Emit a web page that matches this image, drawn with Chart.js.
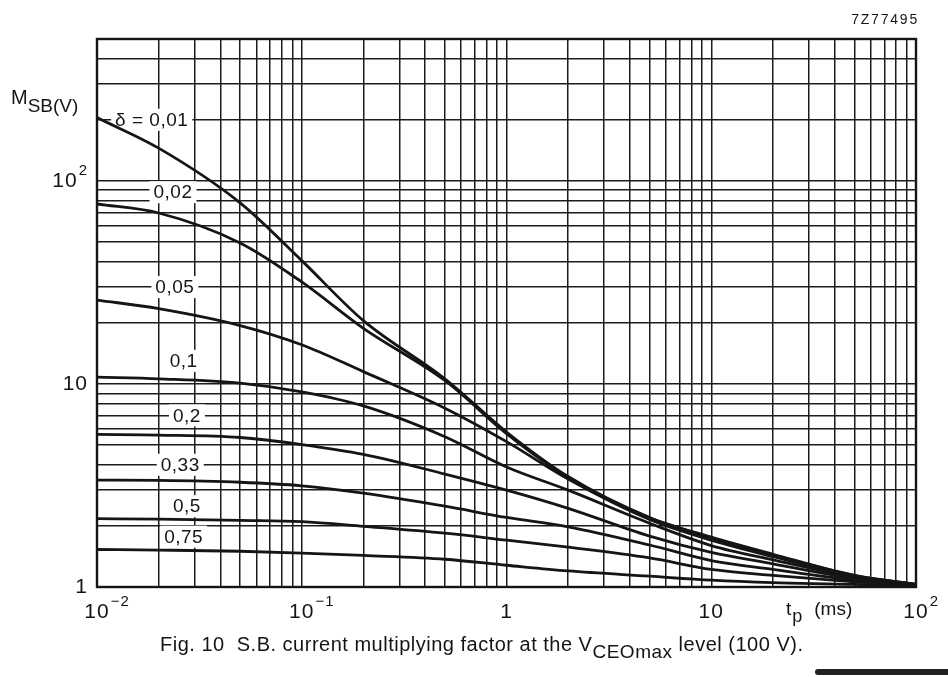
<!DOCTYPE html>
<html>
<head>
<meta charset="utf-8">
<title>S.B. current multiplying factor</title>
<script src="https://cdn.jsdelivr.net/npm/chart.js@4.4.1/dist/chart.umd.min.js"></script>
<style>
  html, body { margin: 0; padding: 0; background: #fff; }
  #wrap { position: relative; width: 948px; height: 677px; overflow: hidden;
          font-family: "Liberation Sans", Arial, sans-serif; color: #151515; }
  #sbChart { position: absolute; left: 0; top: 0; }
  .code { position: absolute; right: 29px; top: 11px; font-size: 14px; letter-spacing: 1.8px; }
  .ytitle { position: absolute; left: 11px; top: 86px; font-size: 20px; }
  .ytitle sub { font-size: 19px; vertical-align: -8px; }
  .xtitle { position: absolute; left: 786px; top: 598px; font-size: 19px; }
  .xtitle sub { font-size: 18px; vertical-align: -7px; margin-right: 12px; margin-left: 1px; }
  .caption { position: absolute; left: 160px; top: 633px; font-size: 20px; letter-spacing: 0.5px; white-space: nowrap; }
  .caption sub { font-size: 19px; vertical-align: -7px; }
  .scrap { position: absolute; left: 815px; top: 669px; width: 140px; height: 6px; background: #222; border-radius: 3px 0 0 3px; }
</style>
</head>
<body>
<div id="wrap">
  <canvas id="sbChart" width="948" height="677"></canvas>
  <div class="code">7Z77495</div>
  <div class="ytitle">M<sub>SB(V)</sub></div>
  <div class="xtitle">t<sub>p</sub>(ms)</div>
  <div class="caption">Fig. 10&nbsp; S.B. current multiplying factor at the V<sub>CEOmax</sub> level (100 V).</div>
  <div class="scrap"></div>
</div>
<script>
// pulse time t_p (ms) where the curves were read
const tp = [0.01, 0.02, 0.05, 0.1, 0.2, 0.5, 1, 2, 5, 10, 20, 50, 100];

// duty factor of each curve
const deltas = ['0,01', '0,02', '0,05', '0,1', '0,2', '0,33', '0,5', '0,75'];

// M_SB(V), one list per duty factor
const m001 = [205, 145, 78, 40.5, 20.5, 10.6, 5.8, 3.5, 2.2, 1.76, 1.45, 1.14, 1.03];
const m002 = [77, 69.5, 49.5, 31.8, 18.8, 10.4, 5.7, 3.46, 2.19, 1.75, 1.44, 1.14, 1.03];
const m005 = [25.9, 23.5, 19.4, 15.6, 11.5, 7.6, 5.2, 3.4, 2.15, 1.7, 1.41, 1.13, 1.03];
const m01  = [10.8, 10.6, 10.1, 9.15, 7.8, 5.5, 3.9, 3.0, 2.06, 1.6, 1.36, 1.12, 1.03];
const m02  = [5.64, 5.6, 5.45, 5.03, 4.5, 3.6, 3.0, 2.44, 1.78, 1.48, 1.3, 1.1, 1.02];
const m033 = [3.36, 3.35, 3.28, 3.15, 2.9, 2.5, 2.2, 1.98, 1.61, 1.35, 1.22, 1.08, 1.02];
const m05  = [2.17, 2.16, 2.13, 2.1, 1.99, 1.84, 1.7, 1.57, 1.39, 1.22, 1.14, 1.06, 1.01];
const m075 = [1.53, 1.52, 1.5, 1.47, 1.43, 1.37, 1.28, 1.2, 1.13, 1.08, 1.05, 1.03, 1.0];
const series = [m001, m002, m005, m01, m02, m033, m05, m075];

// where each curve name sits (t_p, M)
const labelText = ['δ = 0,01', '0,02', '0,05', '0,1', '0,2', '0,33', '0,5', '0,75'];
const labelT = [0.0185, 0.0235, 0.024, 0.0265, 0.0275, 0.0255, 0.0275, 0.0265];
const labelM = [200, 88, 30, 13, 7, 4, 2.5, 1.77];

// log grid and decade tick labels
const gridSteps = [1, 2, 3, 4, 5, 6, 7, 8, 9];
const xGrid = [0.01, 0.1, 1, 10].flatMap(d => gridSteps.map(s => +(s * d).toPrecision(3))).concat([100]);
const yGrid = [1, 10].flatMap(d => gridSteps.map(s => s * d)).concat([100, 200, 300, 400]);
const xTicks = [0.01, 0.1, 1, 10, 100];
const xTickBase = ['10', '10', '1', '10', '10'];
const xTickExp = ['−2', '−1', '', '', '2'];
const yTicks = [1, 10, 100];
const yTickBase = ['1', '10', '10'];
const yTickExp = ['', '', '2'];

const FONT = '"Liberation Sans", Arial, sans-serif';
const INK = '#151515';

// base text + raised exponent, anchored on the base text
function powLabel(ctx, base, exp, px, py, align) {
  ctx.letterSpacing = '1px';
  ctx.font = '21px ' + FONT;
  const bw = ctx.measureText(base).width;
  ctx.font = '15px ' + FONT;
  const ew = exp ? ctx.measureText(exp).width + 1 : 0;
  let bx = px - bw / 2;               // centred under a gridline
  if (align === 'right') bx = px - bw - ew;
  ctx.textAlign = 'left';
  ctx.textBaseline = 'middle';
  ctx.font = '21px ' + FONT;
  ctx.fillText(base, bx, py);
  if (exp) {
    ctx.font = '15px ' + FONT;
    ctx.fillText(exp, bx + bw + 1, py - 10);
  }
}

const decorPlugin = {
  id: 'decor',
  beforeDatasetsDraw(chart) {
    const { ctx, scales: { x, y } } = chart;
    ctx.save();
    ctx.font = '19px ' + FONT;
    ctx.letterSpacing = '0.5px';
    ctx.textAlign = 'center';
    ctx.textBaseline = 'middle';
    labelText.forEach((txt, i) => {
      const px = x.getPixelForValue(labelT[i]);
      const py = y.getPixelForValue(labelM[i]);
      const w = ctx.measureText(txt).width + 8;
      ctx.fillStyle = '#fff';
      ctx.fillRect(px - w / 2, py - 11, w, 22);
      ctx.fillStyle = INK;
      ctx.fillText(txt, px, py + 1);
    });
    ctx.restore();
  },
  afterDatasetsDraw(chart) {
    const { ctx, chartArea: a, scales: { x, y } } = chart;
    ctx.save();
    ctx.strokeStyle = INK;
    ctx.lineWidth = 2.4;
    ctx.strokeRect(a.left, a.top, a.right - a.left, a.bottom - a.top);
    ctx.fillStyle = INK;
    xTicks.forEach((v, i) => powLabel(ctx, xTickBase[i], xTickExp[i], x.getPixelForValue(v), a.bottom + 25, 'center'));
    yTicks.forEach((v, i) => powLabel(ctx, yTickBase[i], yTickExp[i], a.left - 9, y.getPixelForValue(v), 'right'));
    ctx.restore();
  }
};

const gridStyle = { color: '#1c1c1c', lineWidth: 1.5, drawTicks: false };

new Chart(document.getElementById('sbChart'), {
  type: 'line',
  data: {
    datasets: series.map((vals, i) => ({
      label: 'δ = ' + deltas[i],
      data: tp.map((t, j) => ({ x: t, y: vals[j] })),
      borderColor: INK,
      borderWidth: 2.8,
      pointRadius: 0,
      fill: false,
      cubicInterpolationMode: 'monotone'
    }))
  },
  options: {
    responsive: false,
    animation: false,
    events: [],
    layout: { padding: { left: 97, right: 32, top: 39, bottom: 90 } },
    plugins: { legend: { display: false }, tooltip: { enabled: false } },
    scales: {
      x: {
        type: 'logarithmic', min: 0.01, max: 100,
        afterBuildTicks: s => { s.ticks = xGrid.map(v => ({ value: v })); },
        afterFit: s => { s.height = 0; },
        ticks: { display: false },
        grid: gridStyle,
        border: { display: false }
      },
      y: {
        type: 'logarithmic', min: 1, max: 500,
        afterBuildTicks: s => { s.ticks = yGrid.map(v => ({ value: v })); },
        afterFit: s => { s.width = 0; },
        ticks: { display: false },
        grid: gridStyle,
        border: { display: false }
      }
    }
  },
  plugins: [decorPlugin]
});
</script>
</body>
</html>
